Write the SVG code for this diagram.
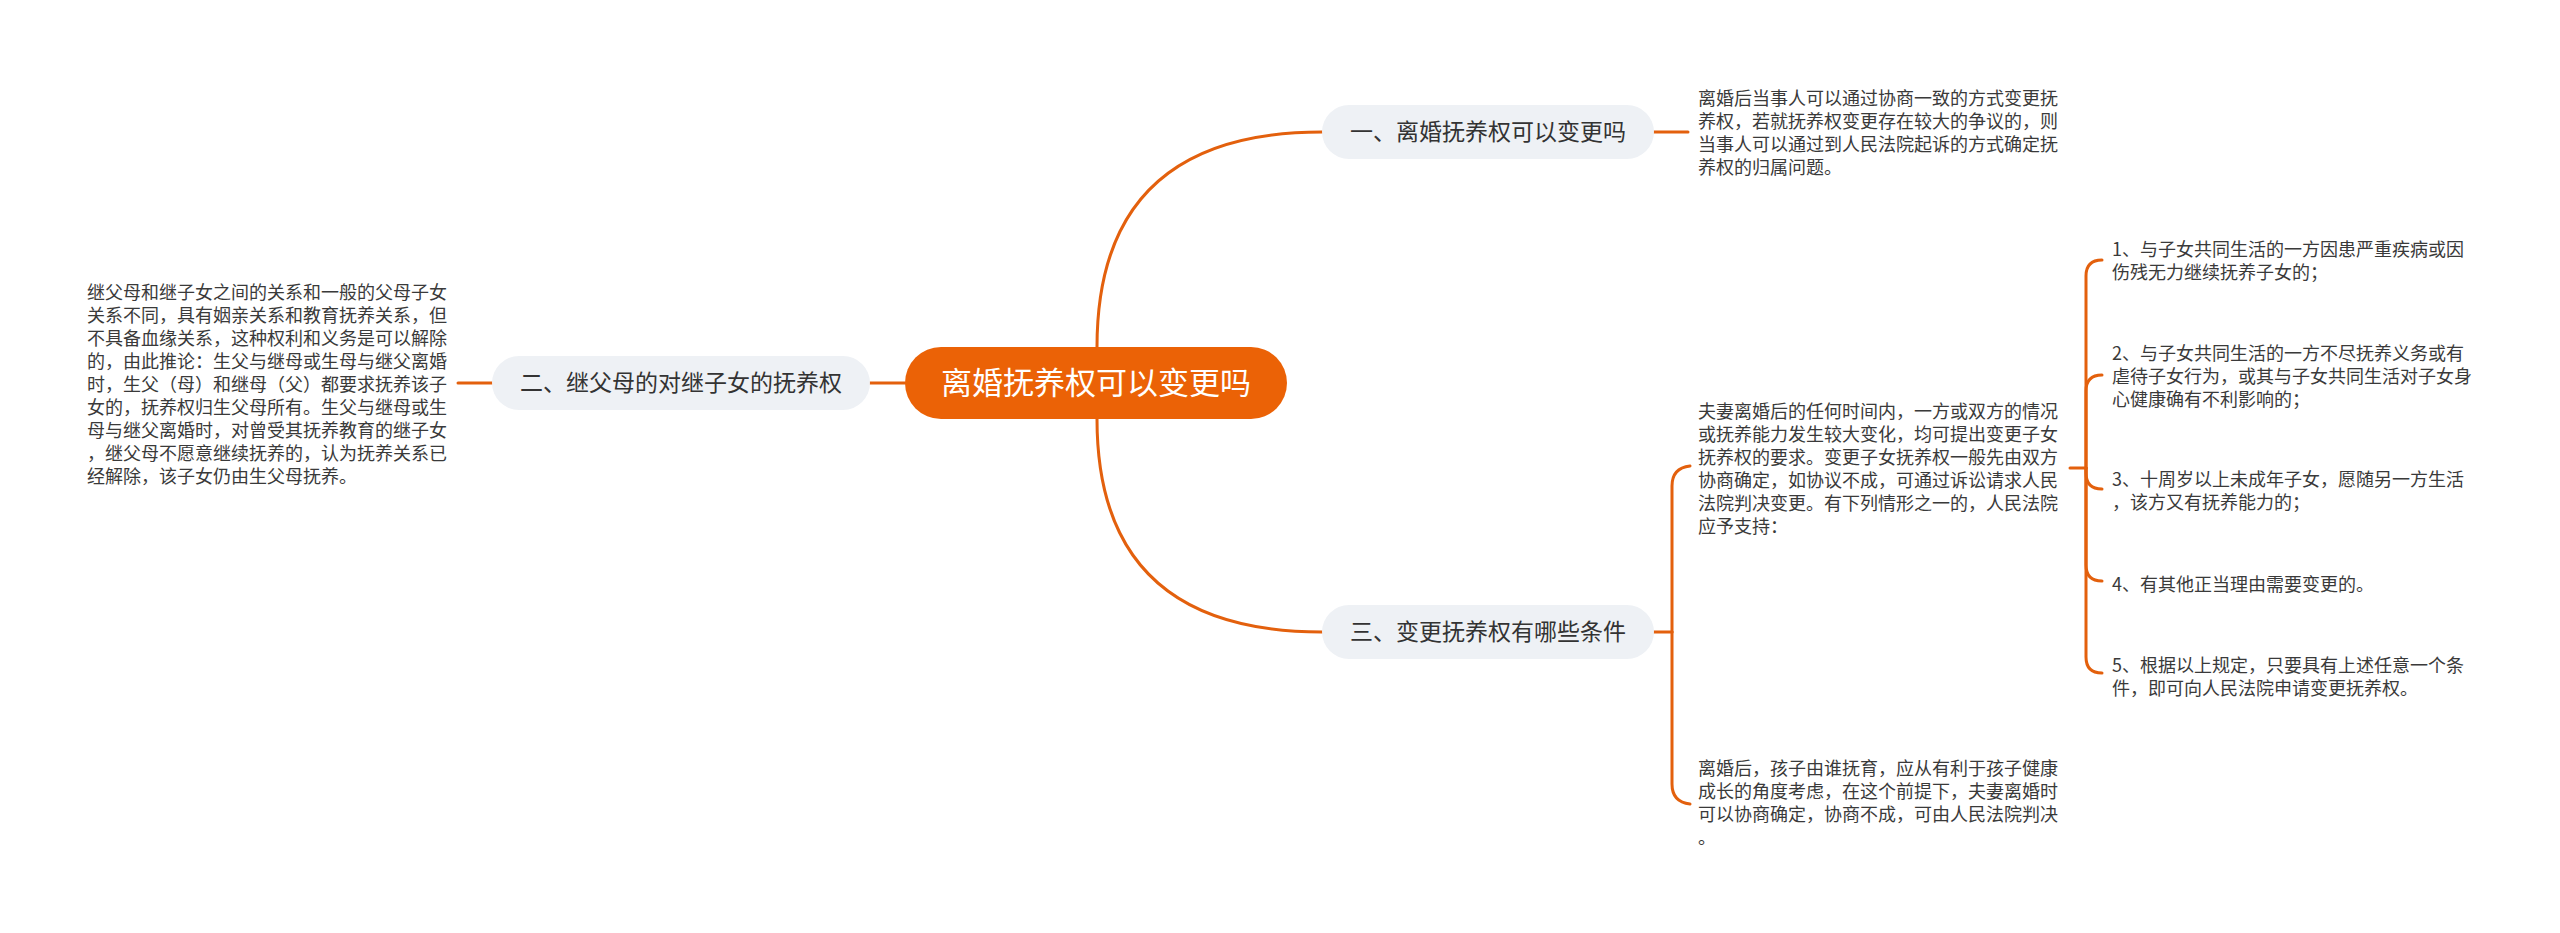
<svg xmlns="http://www.w3.org/2000/svg" width="2560" height="933" viewBox="0 0 2560 933">
<style>
.c{fill:none;stroke:#e3600d;stroke-width:3;stroke-linecap:round}
.b{fill:#eef1f5}
.bt{font-family:"Noto Sans CJK SC","Noto Sans",sans-serif;font-size:23px;fill:#333;text-anchor:middle}
.p{font-family:"Noto Sans CJK SC","Noto Sans",sans-serif;font-size:18px;fill:#3a3a3a}
</style>
<rect width="2560" height="933" fill="#ffffff"/>
<g id="connectors">
<path class="c" d="M1097,347 Q1097,132 1322,132"/>
<path class="c" d="M1097,419 Q1097,632 1322,632"/>
<path class="c" d="M870,383 L905,383"/>
<path class="c" d="M458,383 L492,383"/>
<path class="c" d="M1654,132 L1688,132"/>
<path class="c" d="M1654,632 L1672,632"/>
<path class="c" d="M1672,632 L1672,486 Q1672,468 1690,466"/>
<path class="c" d="M1672,632 L1672,784 Q1672,802 1690,804"/>
<path class="c" d="M2070,468 L2086,468"/>
<path class="c" d="M2086,468 V276 Q2086,260 2102,260"/>
<path class="c" d="M2086,468 V391 Q2086,375 2102,375"/>
<path class="c" d="M2086,468 V473 Q2086,489 2102,489"/>
<path class="c" d="M2086,468 V565 Q2086,581 2102,581"/>
<path class="c" d="M2086,468 V657 Q2086,673 2102,673"/>
</g>
<g id="center">
<rect x="905" y="347" width="382" height="72" rx="36" fill="#eb6206"/>
<text x="1096" y="394" font-family="'Noto Sans CJK SC','Noto Sans',sans-serif" font-size="31" fill="#ffffff" text-anchor="middle">离婚抚养权可以变更吗</text>
</g>
<g id="branch1">
<rect class="b" x="1322" y="105" width="332" height="54" rx="27"/>
<text class="bt" x="1488" y="140">一、离婚抚养权可以变更吗</text>
</g>
<g id="branch2">
<rect class="b" x="492" y="356" width="378" height="54" rx="27"/>
<text class="bt" x="681" y="391">二、继父母的对继子女的抚养权</text>
</g>
<g id="branch3">
<rect class="b" x="1322" y="605" width="332" height="54" rx="27"/>
<text class="bt" x="1488" y="640">三、变更抚养权有哪些条件</text>
</g>
<g id="text1">
<text class="p"><tspan x="1698" y="105">离婚后当事人可以通过协商一致的方式变更抚</tspan><tspan x="1698" y="128">养权，若就抚养权变更存在较大的争议的，则</tspan><tspan x="1698" y="151">当事人可以通过到人民法院起诉的方式确定抚</tspan><tspan x="1698" y="174">养权的归属问题。</tspan></text>
</g>
<g id="text2">
<text class="p"><tspan x="87" y="299">继父母和继子女之间的关系和一般的父母子女</tspan><tspan x="87" y="322">关系不同，具有姻亲关系和教育抚养关系，但</tspan><tspan x="87" y="345">不具备血缘关系，这种权利和义务是可以解除</tspan><tspan x="87" y="368">的，由此推论：生父与继母或生母与继父离婚</tspan><tspan x="87" y="391">时，生父（母）和继母（父）都要求抚养该子</tspan><tspan x="87" y="414">女的，抚养权归生父母所有。生父与继母或生</tspan><tspan x="87" y="437">母与继父离婚时，对曾受其抚养教育的继子女</tspan><tspan x="87" y="460">，继父母不愿意继续抚养的，认为抚养关系已</tspan><tspan x="87" y="483">经解除，该子女仍由生父母抚养。</tspan></text>
</g>
<g id="text3">
<text class="p"><tspan x="1698" y="418">夫妻离婚后的任何时间内，一方或双方的情况</tspan><tspan x="1698" y="441">或抚养能力发生较大变化，均可提出变更子女</tspan><tspan x="1698" y="464">抚养权的要求。变更子女抚养权一般先由双方</tspan><tspan x="1698" y="487">协商确定，如协议不成，可通过诉讼请求人民</tspan><tspan x="1698" y="510">法院判决变更。有下列情形之一的，人民法院</tspan><tspan x="1698" y="533">应予支持：</tspan></text>
</g>
<g id="text4">
<text class="p"><tspan x="1698" y="775">离婚后，孩子由谁抚育，应从有利于孩子健康</tspan><tspan x="1698" y="798">成长的角度考虑，在这个前提下，夫妻离婚时</tspan><tspan x="1698" y="821">可以协商确定，协商不成，可由人民法院判决</tspan><tspan x="1698" y="844">。</tspan></text>
</g>
<g id="item1">
<text class="p"><tspan x="2112" y="256">1、与子女共同生活的一方因患严重疾病或因</tspan><tspan x="2112" y="279">伤残无力继续抚养子女的；</tspan></text>
</g>
<g id="item2">
<text class="p"><tspan x="2112" y="360">2、与子女共同生活的一方不尽抚养义务或有</tspan><tspan x="2112" y="383">虐待子女行为，或其与子女共同生活对子女身</tspan><tspan x="2112" y="406">心健康确有不利影响的；</tspan></text>
</g>
<g id="item3">
<text class="p"><tspan x="2112" y="486">3、十周岁以上未成年子女，愿随另一方生活</tspan><tspan x="2112" y="509">，该方又有抚养能力的；</tspan></text>
</g>
<g id="item4">
<text class="p"><tspan x="2112" y="591">4、有其他正当理由需要变更的。</tspan></text>
</g>
<g id="item5">
<text class="p"><tspan x="2112" y="672">5、根据以上规定，只要具有上述任意一个条</tspan><tspan x="2112" y="695">件，即可向人民法院申请变更抚养权。</tspan></text>
</g>
</svg>
